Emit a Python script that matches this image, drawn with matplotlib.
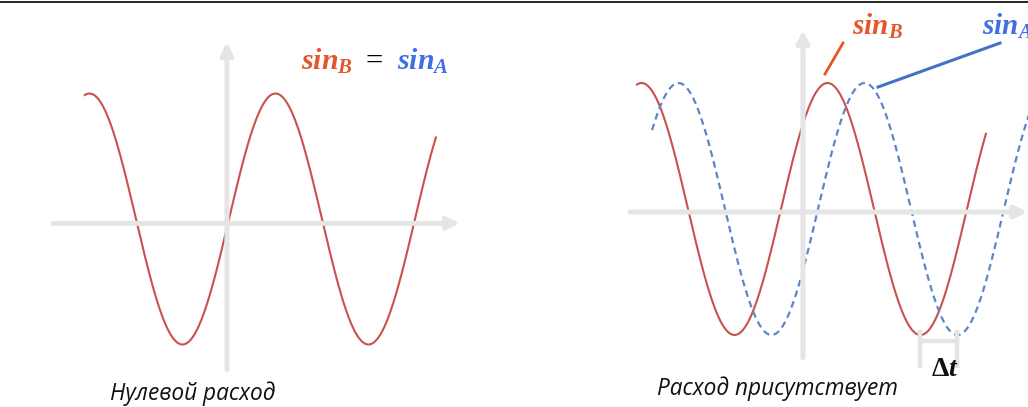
import numpy as np
import matplotlib
matplotlib.use("Agg")
import matplotlib.pyplot as plt
from matplotlib.lines import Line2D

plt.rcParams['mathtext.fontset'] = 'custom'
plt.rcParams['mathtext.rm'] = 'Liberation Serif'
plt.rcParams['mathtext.bf'] = 'Liberation Serif:bold'
plt.rcParams['mathtext.it'] = 'Liberation Serif:italic'
plt.rcParams['mathtext.bfit'] = 'Liberation Serif:bold:italic'

# panel geometry (pixels): origin and scale of one radian / one unit
W, H = 1028, 407
SX = 29.6

# left panel: no phase difference
left_t = np.linspace(-4.87, 6.99, 400)
left_phase = 0.0
left_xaxis = [-5.95, 7.80]
left_yaxis = [-1.20, 1.41]
left_cross = (-0.07, -0.035)   # where the drawn axes cross

# right panel: sin_B leads, sin_A lags by dt
right_tB = np.linspace(-5.61, 6.18, 400)
right_tA = np.linspace(-5.10, 7.80, 400)
phase_B = 0.743
phase_A = -0.507
right_xaxis = [-5.84, 7.58]
right_yaxis = [-1.18, 1.42]
right_cross = (0.0, -0.024)

grey = '#E5E5E5'
red = '#C9514F'
blue = '#5B86CB'
red_txt = '#E2572B'
blue_txt = '#3F6FE6'
cap_font = ['Open Sans', 'DejaVu Sans']

fig = plt.figure(figsize=(W / 100, H / 100), dpi=100)


def panel(px0, px1, ox, oy, sy):
    ax = fig.add_axes([px0 / W, 0, (px1 - px0) / W, 1])
    ax.set_xlim((px0 - ox) / SX, (px1 - ox) / SX)
    ax.set_ylim((oy - H) / sy, oy / sy)
    ax.axis('off')
    return ax


def axis_arrows(ax, xr, yr, cross):
    kw = dict(arrowstyle='-|>', color=grey, lw=3.6, mutation_scale=18,
              shrinkA=0, shrinkB=0)
    cx, cy = cross
    ax.annotate('', xy=(xr[1], cy), xytext=(xr[0], cy), arrowprops=kw)
    ax.annotate('', xy=(cx, yr[1]), xytext=(cx, yr[0]), arrowprops=kw)


# ---- left
axL = panel(0, 514, 229, 219, 125.5)
axis_arrows(axL, left_xaxis, left_yaxis, left_cross)
axL.plot(left_t, np.sin(left_t + left_phase), color=red, lw=1.5)
axL.text(2.43, 1.187, r'$\mathbfit{sin}_{\mathbfit{B}}$', color=red_txt, fontsize=21.5)
axL.text(4.62, 1.187, '=', color='black', fontsize=22, family='Liberation Serif')
axL.text(5.68, 1.187, r'$\mathbfit{sin}_{\mathbfit{A}}$', color=blue_txt, fontsize=21.5)
axL.text(-4.02, -1.442, 'Нулевой расход', fontsize=16.3, style='italic',
         family=cap_font, color='#111111')

# ---- right
axR = panel(514, 1028, 803, 209, 126)
axis_arrows(axR, right_xaxis, right_yaxis, right_cross)
axR.plot(right_tB, np.sin(right_tB + phase_B), color=red, lw=1.5)
axR.plot(right_tA, np.sin(right_tA + phase_A), color=blue, lw=1.6,
         ls=(0, (3, 2)))

# labels with leader lines (sin_A runs off the right edge, as in the reference)
axR.plot([0.743, 1.351], [1.071, 1.317], color=red_txt, lw=2.0)
axR.plot([2.534, 6.655], [0.968, 1.317], color='#4472C4', lw=2.2)
axR.text(1.655, 1.381, r'$\mathbfit{sin}_{\mathbfit{B}}$', color=red_txt, fontsize=21)
axR.text(6.047, 1.381, r'$\mathbfit{sin}_{\mathbfit{A}}$', color=blue_txt, fontsize=21)

# delta t bracket between the troughs
tB = 1.5 * np.pi - phase_B
tA = 1.5 * np.pi - phase_A
for t in (tB, tA):
    axR.plot([t, t], [-0.96, -1.26], color=grey, lw=3.2, solid_capstyle='butt')
axR.plot([tB, tA], [-1.048, -1.048], color=grey, lw=3.2)
axR.text((tB + tA) / 2 + 0.2, -1.265, r'$\mathbf{\Delta}\mathbfit{t}$', fontsize=20,
         ha='center', va='center', color='#111111')
axR.text(-4.93, -1.476, 'Расход присутствует', fontsize=16.3, style='italic',
         family=cap_font, color='#111111')

# frame line at the top
fig.add_artist(Line2D([0, 1], [1 - 1.5 / H, 1 - 1.5 / H], color='black', lw=1.2))

fig.savefig('out.png', dpi=100)
